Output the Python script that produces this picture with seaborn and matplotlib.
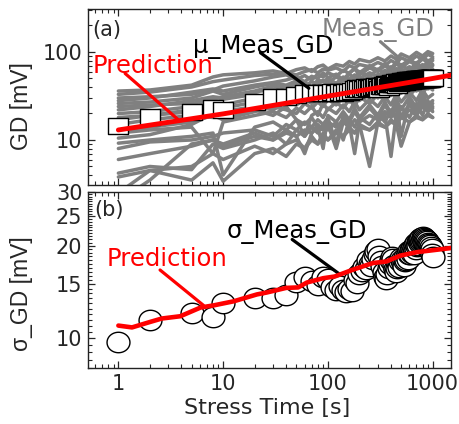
import numpy as np
import pandas as pd
import matplotlib
matplotlib.use("Agg")
import matplotlib.pyplot as plt
from matplotlib.path import Path
from matplotlib.markers import MarkerStyle
from matplotlib.ticker import FixedLocator, FixedFormatter, NullFormatter, LogLocator
import seaborn as sns

# ---------------------------------------------------------------- data
# stress times of the statistical summary [s]
stress_time = [1, 2, 5, 8, 10, 20, 30, 40, 50, 60, 70, 80, 90, 100,
               110, 120, 130, 140, 150, 160, 170, 180, 190, 200,
               210, 220, 230, 240, 250, 260, 270, 280, 290, 300,
               310, 320, 330, 340, 350, 360, 370, 380, 390, 400,
               410, 420, 430, 440, 450, 460, 470, 480, 490, 500,
               510, 520, 530, 540, 550, 560, 570, 580, 590, 600,
               610, 620, 630, 640, 650, 660, 670, 680, 690, 700,
               710, 720, 730, 740, 750, 760, 770, 780, 790, 800,
               810, 820, 830, 840, 850, 860, 870, 880, 890, 900,
               910, 920, 930, 940, 950, 960, 970, 980, 990, 1000]

# mean of measured GD [mV]
mu_meas_gd = [14.4, 18.4, 21.0, 22.9, 21.9, 27.2, 31.0, 31.0, 32.5, 33.9, 34.0, 34.5, 34.0, 34.5,
              34.8, 34.2, 35.0, 34.6, 35.3, 35.0, 35.8, 37.5, 38.5, 37.8,
              39.0, 38.2, 39.5, 38.8, 40.0, 39.2, 40.5, 39.8, 41.0, 40.2,
              38.0, 41.5, 40.8, 42.0, 41.2, 43.0, 42.2, 40.5, 43.8, 42.8,
              44.2, 43.5, 44.8, 43.8, 45.2, 42.5, 45.8, 44.8, 46.0, 45.2,
              46.5, 45.6, 46.8, 46.0, 47.2, 46.4, 47.5, 46.6, 47.8, 47.0,
              48.0, 47.2, 48.2, 47.5, 48.5, 47.8, 48.6, 48.0, 48.8, 48.2,
              49.0, 48.4, 49.1, 48.6, 49.3, 48.8, 49.4, 49.0, 49.5, 49.1,
              49.6, 49.2, 49.7, 49.3, 49.8, 49.5, 49.9, 49.6, 50.0, 49.7,
              50.1, 49.8, 50.1, 49.9, 50.2, 50.0, 50.3, 50.1, 50.2, 50.0]

# standard deviation of measured GD [mV]
sigma_meas_gd = [9.7, 11.45, 12.05, 11.7, 13.0, 13.5, 13.5, 13.8, 15.3, 15.9, 15.4, 14.9, 15.9, 15.6,
                 14.7, 14.4, 14.8, 14.4, 14.2, 14.5, 14.3, 15.5, 15.2, 16.2,
                 16.6, 17.1, 16.8, 18.0, 17.5, 17.2, 18.2, 18.8, 19.2, 19.6,
                 18.5, 17.8, 17.2, 16.4, 15.9, 15.6, 16.2, 17.0, 17.5, 18.0,
                 18.4, 18.2, 17.4, 16.8, 16.5, 17.0, 17.6, 17.1, 17.8, 18.3,
                 18.0, 17.6, 17.2, 17.8, 18.4, 18.0, 18.6, 18.2, 18.9, 19.2,
                 18.8, 19.4, 19.0, 19.6, 19.2, 18.9, 19.8, 20.2, 19.6, 20.4,
                 20.0, 20.6, 20.2, 20.8, 20.4, 21.0, 20.6, 21.2, 20.8, 21.4,
                 21.0, 21.3, 20.6, 21.1, 20.4, 20.9, 20.2, 20.7, 20.0, 20.5,
                 19.8, 20.3, 19.6, 20.1, 19.4, 19.9, 19.2, 19.6, 18.9, 18.4]

# model prediction of the mean GD [mV]
pred_mu_time = [1, 10, 100, 1000, 1500]
pred_mu_gd = [13.0, 19.8, 31.5, 50.0, 54.5]

# model prediction of the GD spread [mV]
pred_sigma_time = [1, 1.35, 2, 2.6, 3.9, 6.1, 8.1, 12.6, 21, 26, 40, 52, 63, 90, 116,
                   170, 220, 270, 360, 490, 710, 1040, 1500]
pred_sigma_gd = [11.0, 10.85, 11.3, 11.6, 11.8, 12.6, 12.8, 13.2, 13.9, 14.1, 14.6,
                 14.65, 15.2, 15.7, 15.9, 16.7, 17.2, 17.6, 17.8, 18.6, 19.1, 19.4, 19.7]

# individual device traces [mV]
device_time = [1, 2, 5, 8, 10, 20, 30, 40, 50, 60, 70, 80, 90, 100, 120, 140, 160,
               180, 200, 250, 300, 350, 400, 450, 500, 600, 700, 800, 900, 1000]
device_gd = [
    [36, 37, 42, 52, 55, 58, 61, 57, 63, 66, 60, 68, 71, 64, 72, 69, 78, 73, 82, 77, 86, 79, 90, 83, 95, 86, 99, 90, 101, 96],
    [33, 35, 40, 46, 48, 54, 56, 58, 55, 60, 63, 58, 64, 62, 66, 60, 70, 66, 72, 68, 76, 70, 80, 74, 86, 78, 90, 82, 94, 88],
    [30, 31, 33, 37, 41, 47, 52, 55, 49, 54, 48, 56, 52, 58, 53, 62, 57, 66, 58, 70, 62, 74, 64, 78, 70, 82, 73, 88, 79, 84],
    [28, 30, 35, 38, 36, 42, 45, 48, 52, 46, 53, 50, 58, 51, 56, 48, 58, 64, 55, 66, 60, 70, 62, 74, 66, 78, 71, 84, 75, 80],
    [26, 27, 30, 36, 33, 40, 44, 42, 47, 45, 40, 48, 46, 50, 44, 52, 49, 55, 50, 58, 53, 62, 56, 65, 60, 68, 62, 72, 66, 70],
    [24, 25, 26, 29, 31, 36, 41, 39, 44, 41, 46, 43, 48, 45, 52, 47, 56, 50, 60, 53, 64, 56, 68, 58, 72, 61, 76, 64, 80, 72],
    [22, 24, 28, 31, 30, 35, 38, 36, 40, 42, 38, 44, 41, 46, 42, 48, 45, 50, 46, 52, 48, 56, 50, 58, 54, 62, 56, 64, 58, 62],
    [20, 21, 24, 27, 25, 30, 32, 34, 31, 36, 34, 38, 35, 40, 37, 42, 39, 44, 40, 46, 43, 50, 45, 52, 47, 55, 50, 58, 52, 56],
    [18, 19, 21, 26, 29, 33, 29, 32, 37, 33, 38, 34, 41, 37, 44, 39, 48, 42, 52, 45, 56, 47, 60, 50, 64, 52, 68, 55, 72, 64],
    [17, 19, 22, 20, 23, 27, 29, 26, 31, 28, 33, 30, 34, 31, 36, 33, 38, 34, 40, 36, 42, 38, 44, 40, 46, 42, 48, 44, 50, 47],
    [15, 17, 19, 18, 21, 24, 22, 27, 25, 29, 26, 30, 28, 32, 29, 34, 30, 36, 32, 38, 34, 40, 35, 42, 37, 44, 39, 46, 41, 44],
    [13, 14, 16, 19, 17, 21, 24, 22, 20, 26, 23, 27, 24, 29, 25, 31, 27, 33, 28, 35, 30, 37, 32, 39, 34, 41, 36, 43, 38, 40],
    [12, 13, 14, 7, 16, 19, 21, 18, 23, 20, 24, 19, 26, 22, 27, 23, 29, 24, 31, 26, 33, 28, 35, 30, 37, 32, 39, 34, 41, 37],
    [10.5, 11.5, 15, 20, 17, 22, 19, 24, 17, 11, 19, 21, 18, 23, 20, 25, 21, 27, 22, 29, 24, 31, 25, 33, 27, 35, 28, 37, 30, 33],
    [9.2, 10, 11, 12, 4, 14, 16, 13, 17, 15, 18, 14, 8, 19, 16, 21, 17, 23, 18, 25, 19, 27, 20, 29, 22, 31, 23, 33, 25, 28],
    [8.0, 9.5, 10, 11, 12, 13, 11, 15, 13, 16, 14, 17, 15, 18, 9, 19, 16, 21, 17, 23, 18, 25, 19, 27, 11, 29, 21, 31, 23, 26],
    [6.0, 7, 8.5, 10, 9, 12, 10, 13, 11, 7, 12, 15, 13, 16, 14, 17, 15, 7, 16, 19, 17, 21, 18, 23, 19, 25, 20, 27, 22, 24],
    [4.2, 5.0, 4.6, 9, 8, 10, 12, 9, 13, 11, 14, 12, 15, 13, 16, 10, 17, 14, 18, 15, 20, 16, 22, 17, 24, 18, 26, 19, 28, 21],
    [3.8, 4.5, 5, 7, 6, 8.5, 7, 9, 10, 8, 11, 9, 12, 10, 13, 11, 14, 12, 15, 13, 16, 14, 17, 15, 18, 16, 19, 17, 20, 18],
    [2.0, 3.5, 9, 10, 8.5, 11, 10, 12, 11, 13, 12, 14, 13, 15, 8, 16, 14, 17, 15, 5, 16, 19, 6.5, 20, 18, 22, 19, 24, 21, 23],
    [2.5, 4.5, 3.5, 5.5, 3.4, 7, 8, 6.5, 9, 8, 10, 9, 11, 10, 12, 11, 13, 12, 14, 13, 15, 14, 16, 15, 8.5, 16, 18, 17, 19, 18],
]

# ---------------------------------------------------------------- tables
summary = pd.DataFrame({"t": stress_time, "mu": mu_meas_gd, "sigma": sigma_meas_gd})
pred_mu = pd.DataFrame({"t": pred_mu_time, "gd": pred_mu_gd})
pred_sigma = pd.DataFrame({"t": pred_sigma_time, "gd": pred_sigma_gd})
traces = pd.DataFrame(
    [(f"dev{i:02d}", t, v)
     for i, row in enumerate(device_gd)
     for t, v in zip(device_time, row)],
    columns=["device", "t", "gd"],
)

# ---------------------------------------------------------------- style
sns.set_style("ticks")
plt.rcParams["font.family"] = ["DejaVu Sans"]
plt.rcParams.update({
    "xtick.direction": "in", "ytick.direction": "in",
    "xtick.top": True, "ytick.right": True,
    "xtick.major.size": 5, "ytick.major.size": 5,
    "xtick.minor.size": 3, "ytick.minor.size": 3,
    "xtick.major.width": 0.9, "ytick.major.width": 0.9,
    "xtick.minor.width": 0.8, "ytick.minor.width": 0.8,
    "axes.linewidth": 1.0,
    "axes.edgecolor": "#222222",
})

TICK_FS = 15
XLABEL_FS = 16
YLABEL_FS = 16.5
NOTE_FS = 17.5
GRAY = "#808080"
YFAMILY = ["Liberation Sans", "DejaVu Sans"]

# wide box / wide ellipse markers
box = MarkerStyle(Path([(-1.2, -1), (1.2, -1), (1.2, 1), (-1.2, 1), (-1.2, -1)],
                       closed=True))
ang = np.linspace(0, 2 * np.pi, 61)
ellipse = MarkerStyle(Path(np.column_stack([1.12 * np.cos(ang), np.sin(ang)]),
                           closed=True))

fig = plt.figure(figsize=(4.6, 4.24), dpi=100)
ax1 = fig.add_axes([0.1913, 0.5637, 0.7891, 0.4151])
ax2 = fig.add_axes([0.1913, 0.1321, 0.7891, 0.4151])

# ---------------------------------------------------------------- panel (a)
sns.lineplot(data=traces, x="t", y="gd", units="device", estimator=None,
             color=GRAY, lw=2.5, ax=ax1, legend=False, zorder=1)
sns.scatterplot(data=summary, x="t", y="mu", marker=box, s=14.5 ** 2,
                color="white", edgecolor="black", linewidth=1.0, ax=ax1,
                legend=False, zorder=3)
sns.lineplot(data=pred_mu, x="t", y="gd", color="red", lw=3.5, ax=ax1,
             legend=False, zorder=4)

ax1.set_xscale("log")
ax1.set_yscale("log")
ax1.set_xlim(0.513, 1495)
ax1.set_ylim(3.08, 308)
ax1.yaxis.set_major_locator(FixedLocator([10, 100]))
ax1.yaxis.set_major_formatter(FixedFormatter(["10", "100"]))
ax1.yaxis.set_minor_locator(LogLocator(base=10, subs=np.arange(2, 10)))
ax1.yaxis.set_minor_formatter(NullFormatter())
ax1.set_xlabel("")
ax1.set_ylabel("GD [mV]", fontsize=YLABEL_FS, family=YFAMILY)
ax1.yaxis.set_label_coords(-0.152, 0.446)

ax1.text(0.011, 0.847, "(a)", transform=ax1.transAxes, fontsize=TICK_FS, va="baseline")
ax1.text(0.014, 0.636, "Prediction", transform=ax1.transAxes, fontsize=NOTE_FS,
         color="red", va="baseline")
ax1.text(0.289, 0.75, "\u03bc_Meas_GD", transform=ax1.transAxes, fontsize=NOTE_FS,
         color="black", va="baseline")
ax1.text(0.645, 0.847, "Meas_GD", transform=ax1.transAxes, fontsize=NOTE_FS,
         color=GRAY, va="baseline")
ax1.annotate("", xy=(3.75, 16.9), xytext=(1.16, 57),
             arrowprops=dict(arrowstyle="-", color="red", lw=2.3, shrinkA=0, shrinkB=0))
ax1.annotate("", xy=(65.8, 38.7), xytext=(22.7, 98),
             arrowprops=dict(arrowstyle="-", color="black", lw=2.3, shrinkA=0, shrinkB=0))
ax1.annotate("", xy=(461, 88.5), xytext=(317, 131),
             arrowprops=dict(arrowstyle="-", color=GRAY, lw=2.3, shrinkA=0, shrinkB=0))

# ---------------------------------------------------------------- panel (b)
sns.scatterplot(data=summary, x="t", y="sigma", marker=ellipse, s=16.5 ** 2,
                color="white", edgecolor="black", linewidth=1.0, ax=ax2,
                legend=False, zorder=3)
sns.lineplot(data=pred_sigma, x="t", y="gd", color="red", lw=3.3, ax=ax2,
             legend=False, zorder=4)

ax2.set_xscale("log")
ax2.set_yscale("log")
ax2.set_xlim(0.513, 1495)
ax2.set_ylim(8.0, 30)
ax2.yaxis.set_major_locator(FixedLocator([10, 15, 20, 25, 30]))
ax2.yaxis.set_major_formatter(FixedFormatter(["10", "15", "20", "25", "30"]))
ax2.yaxis.set_minor_locator(FixedLocator(np.arange(8.0, 30.01, 0.5)))
ax2.yaxis.set_minor_formatter(NullFormatter())
ax2.set_ylabel("\u03c3_GD [mV]", fontsize=YLABEL_FS, family=YFAMILY)
ax2.yaxis.set_label_coords(-0.152, 0.42)
ax2.set_xlabel("Stress Time [s]", fontsize=XLABEL_FS)
ax2.xaxis.set_label_coords(0.494, -0.17)

ax2.text(0.017, 0.864, "(b)", transform=ax2.transAxes, fontsize=TICK_FS, va="baseline")
ax2.text(0.383, 0.739, "\u03c3_Meas_GD", transform=ax2.transAxes, fontsize=NOTE_FS,
         color="black", va="baseline")
ax2.text(0.05, 0.58, "Prediction", transform=ax2.transAxes, fontsize=NOTE_FS,
         color="red", va="baseline")
ax2.annotate("", xy=(6.5, 12.8), xytext=(2.5, 16.7),
             arrowprops=dict(arrowstyle="-", color="red", lw=2.3, shrinkA=0, shrinkB=0))
ax2.annotate("", xy=(132, 16.1), xytext=(45.6, 21.0),
             arrowprops=dict(arrowstyle="-", color="black", lw=2.3, shrinkA=0, shrinkB=0))

for ax in (ax1, ax2):
    ax.xaxis.set_major_locator(FixedLocator([1, 10, 100, 1000]))
    ax.xaxis.set_major_formatter(FixedFormatter(["1", "10", "100", "1000"]))
    ax.xaxis.set_minor_locator(LogLocator(base=10, subs=np.arange(2, 10)))
    ax.xaxis.set_minor_formatter(NullFormatter())
    ax.tick_params(which="both", top=True, right=True, labelsize=TICK_FS, pad=4)
ax1.tick_params(labelbottom=False)

fig.savefig("out.png", dpi=100, facecolor="white")
